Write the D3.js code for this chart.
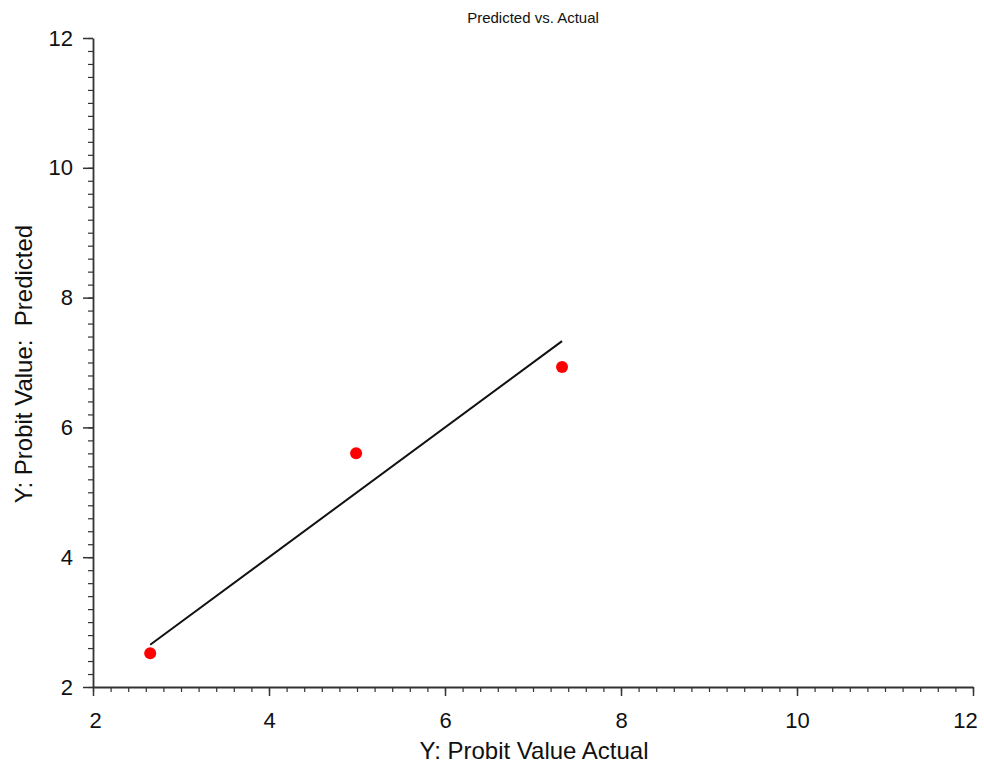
<!DOCTYPE html>
<html lang="en">
<head>
<meta charset="utf-8">
<title>Predicted vs. Actual</title>
<script src="https://cdn.jsdelivr.net/npm/d3@7"></script>
<style>
  body { margin: 0; background: #fff; }
  text { font-family: "Liberation Sans", Arial, sans-serif; fill: #111; }
</style>
</head>
<body>
<div id="chart"></div>
<script>
// data
var actual = [2.65, 4.99, 7.33];
var predicted = [2.52, 5.60, 6.93];
var xDomain = [2, 12];
var yDomain = [2, 12];
var majorTicks = [2, 4, 6, 8, 10, 12];

var W = 984, H = 765;
var m = { left: 93, right: 11, top: 38, bottom: 78 };

var svg = d3.select("#chart").append("svg")
  .attr("width", W).attr("height", H);

var x = d3.scaleLinear().domain(xDomain).range([m.left, W - m.right]);
var y = d3.scaleLinear().domain(yDomain).range([H - m.bottom, m.top]);

var minorTicks = d3.range(xDomain[0], xDomain[1] + 0.001, 0.2);

// minor ticks
svg.append("g")
  .attr("transform", "translate(0," + y(2) + ")")
  .call(d3.axisBottom(x).tickValues(minorTicks).tickSize(5).tickFormat(""))
  .call(g => g.select(".domain").remove())
  .selectAll("line").attr("stroke", "#333").attr("stroke-width", 1.2);

svg.append("g")
  .attr("transform", "translate(" + x(2) + ",0)")
  .call(d3.axisLeft(y).tickValues(minorTicks).tickSize(5).tickFormat(""))
  .call(g => g.select(".domain").remove())
  .selectAll("line").attr("stroke", "#333").attr("stroke-width", 1.2);

// major ticks + labels
var xAxis = svg.append("g")
  .attr("transform", "translate(0," + y(2) + ")")
  .call(d3.axisBottom(x).tickValues(majorTicks).tickSize(9).tickPadding(16).tickSizeOuter(0));
xAxis.select(".domain").attr("stroke", "#333").attr("stroke-width", 1.8);
xAxis.selectAll("line").attr("stroke", "#333").attr("stroke-width", 1.5);
xAxis.selectAll("text").attr("font-size", 22).attr("font-family", "Liberation Sans, Arial, sans-serif").attr("fill", "#111")
  .attr("dx", d => d === 12 ? -8 : (d === 2 ? 2 : 0));

var yAxis = svg.append("g")
  .attr("transform", "translate(" + x(2) + ",0)")
  .call(d3.axisLeft(y).tickValues(majorTicks).tickSize(10).tickPadding(10).tickSizeOuter(0));
yAxis.select(".domain").attr("stroke", "#333").attr("stroke-width", 1.8);
yAxis.selectAll("line").attr("stroke", "#333").attr("stroke-width", 1.5);
yAxis.selectAll("text").attr("font-size", 22).attr("font-family", "Liberation Sans, Arial, sans-serif").attr("fill", "#111");

// reference line y = x across the actual range
var lo = d3.min(actual), hi = d3.max(actual);
svg.append("line")
  .attr("x1", x(lo)).attr("y1", y(lo))
  .attr("x2", x(hi)).attr("y2", y(hi))
  .attr("stroke", "#111").attr("stroke-width", 2);

// points
svg.selectAll("circle.pt")
  .data(actual.map((a, i) => ({ a: a, p: predicted[i] })))
  .enter().append("circle")
  .attr("class", "pt")
  .attr("cx", d => x(d.a))
  .attr("cy", d => y(d.p))
  .attr("r", 6)
  .attr("fill", "#ff0000");

// titles
svg.append("text")
  .attr("x", 533).attr("y", 23)
  .attr("text-anchor", "middle")
  .attr("font-size", 15)
  .text("Predicted vs. Actual");

svg.append("text")
  .attr("x", 534).attr("y", 759)
  .attr("text-anchor", "middle")
  .attr("font-size", 24)
  .text("Y: Probit Value Actual");

svg.append("text")
  .attr("transform", "translate(32,364) rotate(-90)")
  .attr("text-anchor", "middle")
  .attr("font-size", 24)
  .attr("xml:space", "preserve")
  .text("Y: Probit Value:  Predicted");
</script>
</body>
</html>
